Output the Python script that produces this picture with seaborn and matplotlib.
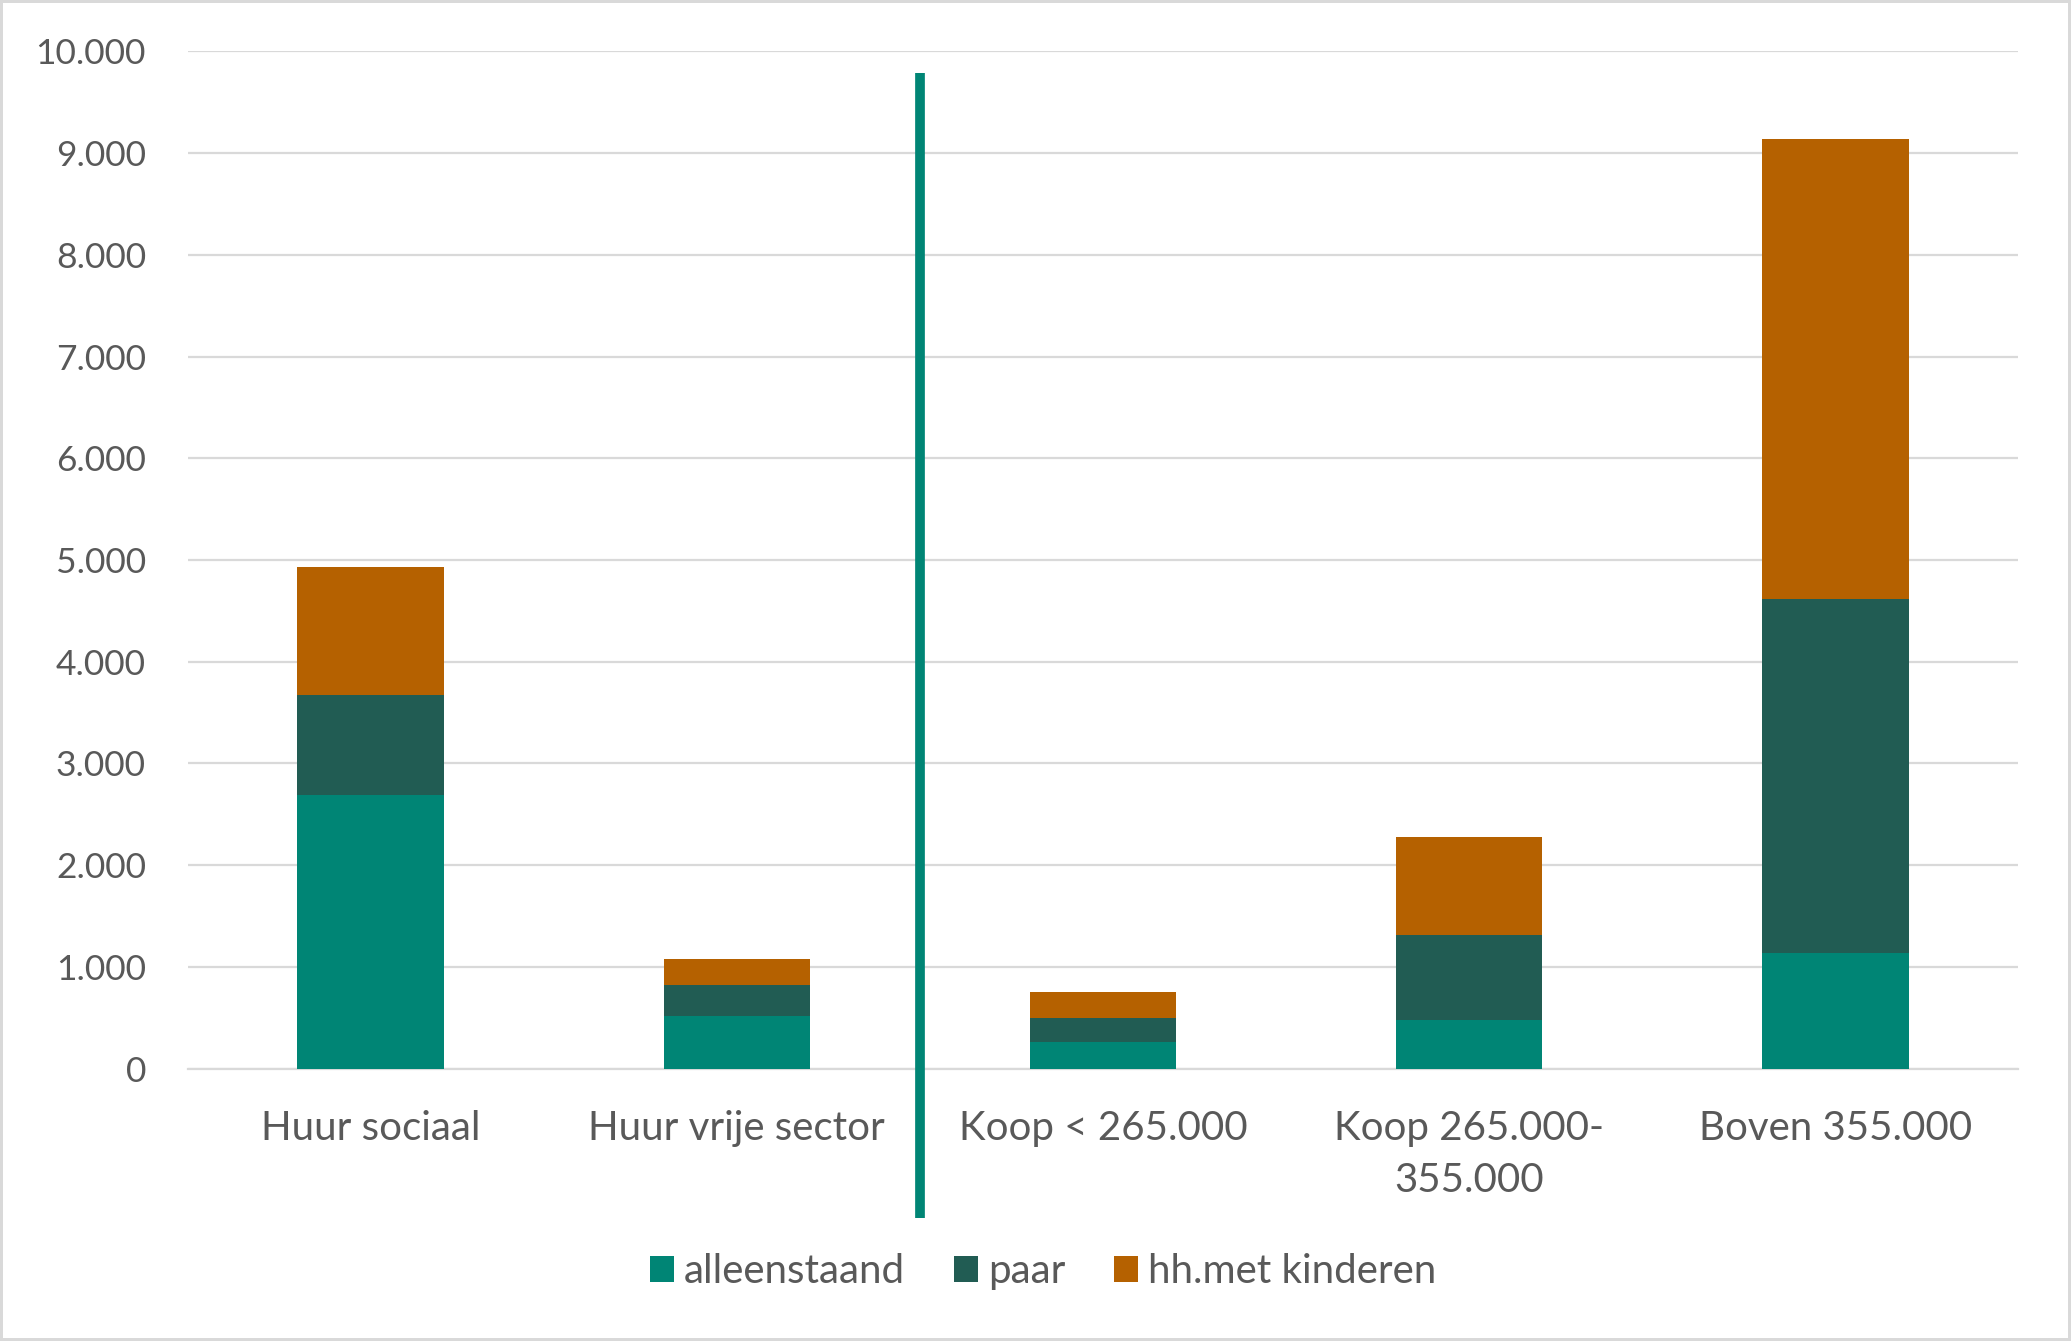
import numpy as np
import pandas as pd
import matplotlib.pyplot as plt
from matplotlib.patches import Patch
import seaborn as sns

categories = ['Huur sociaal', 'Huur vrije sector', 'Koop < 265.000', 'Koop 265.000-\n355.000', 'Boven 355.000']
alleenstaand = [2686, 518, 262, 481, 1138]
paar = [991, 305, 236, 832, 3475]
kinderen = [1252, 256, 250, 965, 4525]
series_names = ['alleenstaand', 'paar', 'hh.met kinderen']
colors = ['#008575', '#215C53', '#B56100']
y_ticks = list(range(0, 10001, 1000))

sns.set_theme(style='white')
plt.rcParams['font.family'] = ['Lato', 'DejaVu Sans']
TEXT = '#595959'
GRID = '#D9D9D9'

# cumulative heights, drawn tallest first so they stack
df = pd.DataFrame({'cat': categories,
                   'a': alleenstaand,
                   'p': np.array(alleenstaand) + np.array(paar),
                   'k': np.array(alleenstaand) + np.array(paar) + np.array(kinderen)})

fig = plt.figure(figsize=(20.71, 13.41), dpi=100, linewidth=3, edgecolor=GRID)
ax = fig.add_axes([0.0906, 0.2032, 0.884, 0.7584])

for col, c in zip(['k', 'p', 'a'], colors[::-1]):
    sns.barplot(data=df, x='cat', y=col, color=c, width=0.4, saturation=1,
                linewidth=0, ax=ax, zorder=3)

ax.set_ylim(0, 10000)
ax.set_xlim(-0.5, 4.5)
ax.set_yticks(y_ticks)
ax.set_yticklabels([f'{v:,}'.replace(',', '.') for v in y_ticks])
ax.yaxis.grid(True, color=GRID, linewidth=1.6, zorder=0)
ax.set_axisbelow(True)
for s in ['top', 'right', 'left']:
    ax.spines[s].set_visible(False)
ax.spines['bottom'].set_color(GRID)
ax.spines['bottom'].set_linewidth(1.6)
ax.tick_params(axis='both', length=0, colors=TEXT)
ax.tick_params(axis='y', pad=30, labelsize=25.5)
ax.tick_params(axis='x', pad=30, labelsize=29)
for t in ax.get_xticklabels():
    t.set_linespacing(1.5)
ax.set_xlabel('')
ax.set_ylabel('')

# separator between rent and buy
ax.axvline(1.5, ymin=-0.147, ymax=0.979, color='#008575', linewidth=7,
           clip_on=False, zorder=4, solid_capstyle='butt')

handles = [Patch(facecolor=c, edgecolor='none') for c in colors]
fig.legend(handles, series_names, loc='center', bbox_to_anchor=(0.5036, 0.0515),
           ncol=3, frameon=False, fontsize=29, labelcolor=TEXT,
           handlelength=0.6, handleheight=0.6, handletextpad=0.25,
           columnspacing=1.2)

fig.savefig('out.png', dpi=100)
